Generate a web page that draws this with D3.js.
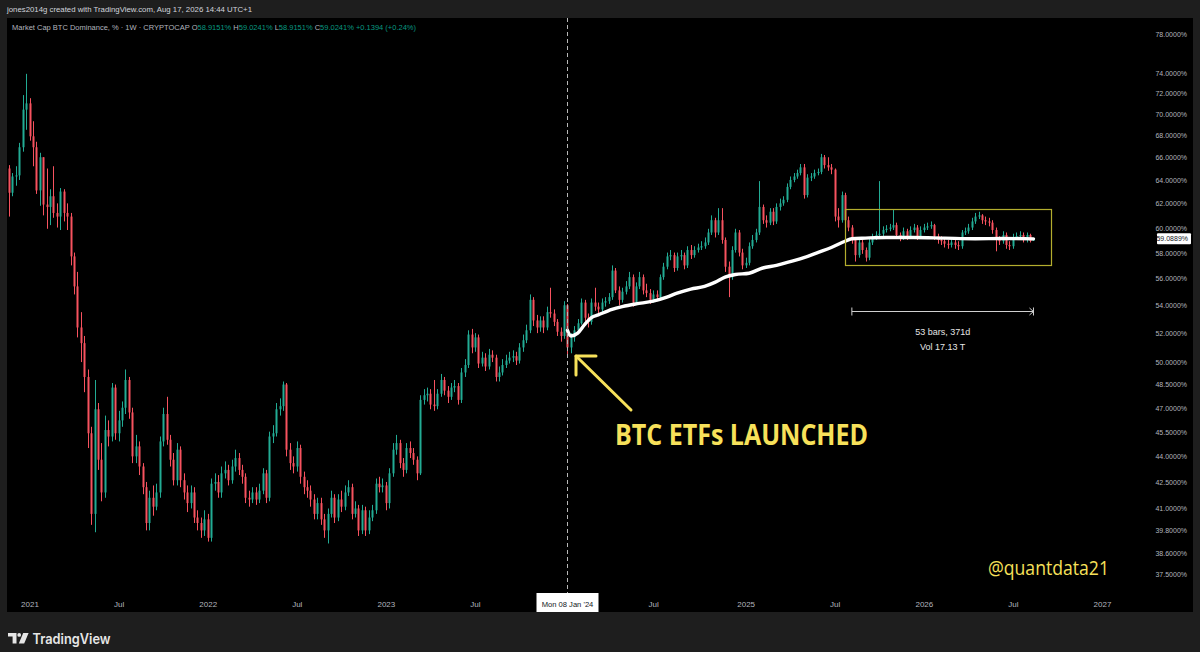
<!DOCTYPE html>
<html><head><meta charset="utf-8">
<script src="https://cdn.jsdelivr.net/npm/d3@7"></script>
<style>body{margin:0;background:#1e1e1e;overflow:hidden} svg{display:block}</style>
</head><body><svg id="c" width="1200" height="652"></svg>
<script>
// ---------------- DATA ----------------
const firstWeek = "2020-11-23";
const firstOpen = 65.0;
const closes = [
62.9,64.3,64.4,66.9,70.4,71.0,67.9,66.9,63.1,66.0,
61.9,61.7,62.6,61.2,60.9,63.0,61.2,60.9,57.7,55.4,
52.4,51.3,49.0,45.4,40.7,46.9,43.8,41.9,45.6,45.2,
48.3,45.4,46.2,47.0,48.8,46.7,44.0,44.6,43.4,42.2,
40.2,41.6,41.1,41.9,44.9,46.6,45.0,43.8,42.6,44.4,
42.6,41.9,41.3,41.9,40.5,40.2,39.8,40.4,39.4,42.4,
42.5,41.9,43.0,43.2,42.6,43.4,43.9,43.2,42.8,41.6,
41.5,41.9,41.5,42.0,43.0,
41.6,45.2,45.4,46.9,47.1,48.5,44.4,43.6,43.4,44.5,
42.8,42.2,42.0,41.5,40.7,41.3,40.4,39.8,40.7,41.6,
40.5,41.5,41.1,41.9,42.2,40.7,41.0,39.8,40.9,39.8,
40.5,40.9,42.4,42.2,42.3,41.3,43.0,44.4,44.8,43.6,
43.2,44.5,44.2,43.8,43.0,47.5,47.8,47.9,47.2,47.1,
47.9,48.8,48.1,47.7,48.3,48.4,47.5,49.3,49.8,51.9,
51.0,51.7,49.9,50.3,49.7,50.5,50.3,49.0,49.3,49.8,
50.1,50.3,50.4,50.1,51.0,
51.5,52.2,54.4,52.9,52.4,52.9,52.4,53.5,53.4,52.8,
52.1,51.8,54.0,51.0,51.7,52.2,52.7,54.2,53.1,52.8,
54.2,53.9,53.7,54.2,54.3,54.6,56.6,55.1,54.4,55.0,
55.4,56.1,54.2,55.4,56.1,55.1,54.9,54.4,54.8,54.6,
56.1,56.9,57.7,57.8,56.8,57.7,57.8,57.0,58.2,57.8,
58.2,58.4,58.5,58.8,59.6,60.6,59.6,60.6,59.0,56.9,
56.1,58.2,59.6,58.0,57.0,57.2,58.5,59.0,59.6,61.7,
60.6,60.4,61.3,60.5,61.7,62.0,62.3,63.4,64.0,64.3,
64.6,65.1,62.7,64.2,64.3,64.6,64.7,66.0,65.3,65.1,
64.9,60.9,60.6,62.7,60.6,60.0,59.0,57.8,58.8,58.2,
57.6,58.8,59.2,59.4,59.5,59.8,59.9,60.0,60.2,59.4,
59.2,59.7,59.3,59.8,60.0,59.3,59.8,60.0,60.1,60.2,
59.3,59.0,58.9,58.7,58.6,58.8,58.6,58.5,59.6,59.7,
60.0,60.5,60.9,61.0,60.6,60.5,60.4,59.8,59.0,58.9,
59.4,58.6,58.5,59.2,59.3,59.4,59.0,59.4,58.92,59.02
];
const highs = [
65.3,64.6,65.2,67.3,71.8,73.9,71.5,69.3,67.4,66.4,
66.0,65.0,63.2,65.2,62.0,63.3,63.2,62.0,61.2,58.0,
56.5,53.5,51.8,49.5,45.8,48.8,47.3,44.8,46.5,46.2,
48.6,48.5,46.8,47.4,49.5,49.0,47.0,45.3,44.9,43.6,
42.5,42.0,42.3,42.4,45.2,47.0,47.7,45.3,44.2,44.8,
44.6,43.0,42.3,42.3,42.2,40.9,40.5,40.9,40.7,42.7,
43.0,42.9,43.4,43.7,43.5,43.8,44.4,44.2,43.5,43.0,
42.0,42.2,42.2,42.4,43.3,
43.2,45.5,45.9,47.3,47.6,48.7,48.6,44.8,44.0,44.9,
44.7,43.1,42.6,42.3,41.8,41.6,41.6,40.7,41.0,42.0,
41.8,41.8,42.0,42.3,42.6,42.4,41.4,41.2,41.2,41.1,
40.9,41.2,42.7,42.8,42.7,42.5,43.3,44.8,45.3,45.0,
43.9,44.8,44.9,44.5,44.0,47.8,48.2,48.3,48.2,48.8,
48.2,49.2,49.0,48.4,48.6,48.8,48.6,49.6,50.2,52.2,
52.3,52.0,51.9,50.7,50.6,50.9,50.8,50.5,49.7,50.2,
50.5,50.7,50.8,50.7,51.3,
51.9,52.6,54.8,54.6,53.3,53.2,53.2,53.9,55.3,53.7,
53.0,52.4,54.3,54.1,52.0,52.5,53.0,54.5,54.4,53.4,
54.5,55.3,54.2,54.5,54.6,54.9,57.0,56.8,55.4,55.3,
55.8,56.5,56.3,55.7,56.5,56.3,55.6,55.2,55.1,55.1,
56.3,57.2,58.0,58.2,58.0,58.0,58.2,58.0,58.5,58.6,
58.5,58.7,58.9,59.2,59.9,61.0,60.8,61.6,61.6,59.2,
57.3,58.5,59.9,59.8,58.3,57.6,58.8,59.4,59.9,63.9,
61.9,61.0,61.6,61.6,62.0,62.4,62.6,63.7,64.3,64.6,
64.9,65.4,65.4,64.5,64.6,64.9,65.0,66.3,66.2,66.0,
65.4,65.0,61.6,63.0,62.9,60.9,60.2,59.2,59.1,59.0,
58.4,59.1,59.5,59.7,63.9,60.1,60.2,60.3,61.5,60.4,
59.6,60.0,59.9,60.1,60.3,60.2,60.1,60.3,60.4,60.5,
60.3,59.5,59.3,59.1,59.0,59.1,59.0,58.9,59.8,60.0,
60.3,60.8,61.2,61.3,61.1,60.9,60.8,60.6,60.0,59.3,
59.7,59.6,58.9,59.5,59.6,59.7,59.6,59.6,59.5,59.02
];
const lows = [
60.9,62.6,63.5,64.0,66.5,68.5,67.5,65.2,62.8,61.8,
61.0,59.9,60.2,60.8,60.0,59.8,60.5,59.8,57.0,54.8,
51.7,50.0,48.0,44.5,40.1,39.7,43.2,41.4,41.6,44.6,
44.9,45.0,44.9,45.8,46.6,46.3,43.6,43.6,42.9,41.8,
39.8,39.8,40.6,40.9,41.6,44.6,44.7,43.4,42.3,42.3,
42.2,41.5,40.8,41.0,40.2,39.8,39.4,39.5,39.2,39.2,
42.0,41.6,41.6,42.7,42.3,42.4,43.1,42.9,42.4,41.3,
41.1,41.3,41.2,41.3,41.8,
41.3,41.4,44.8,45.2,46.5,46.8,44.0,43.2,43.0,43.1,
42.4,41.8,41.6,41.1,40.4,40.4,40.1,39.4,39.1,40.5,
40.2,40.3,40.8,40.9,41.7,40.4,40.5,39.5,39.6,39.5,
39.6,40.3,40.7,41.9,41.9,40.9,41.0,42.8,44.1,43.3,
42.8,43.0,43.9,43.5,42.6,42.9,47.2,47.4,46.9,46.8,
46.9,47.7,47.8,47.3,47.5,48.0,47.2,47.3,49.0,49.6,
50.6,50.7,49.6,49.7,49.4,49.5,50.0,48.7,48.7,49.1,
49.6,49.9,50.0,49.8,49.9,
50.7,51.3,52.0,52.5,52.0,52.1,52.0,52.2,53.1,52.5,
51.8,51.4,51.6,50.5,50.6,51.4,52.0,52.6,52.8,52.4,
52.6,53.6,53.4,53.5,53.9,54.1,54.4,54.9,54.0,54.2,
54.8,55.2,53.9,54.0,55.2,54.8,54.6,54.1,54.2,54.3,
54.5,55.9,56.7,57.4,56.5,56.6,57.4,56.7,56.8,57.5,
57.6,58.0,58.2,58.3,58.6,59.4,59.2,59.4,58.7,56.5,
54.6,55.9,58.0,57.7,56.7,56.8,57.0,58.3,58.8,59.4,
60.3,60.0,60.2,60.2,60.3,61.4,61.8,62.1,63.2,63.8,
64.1,64.4,62.4,62.5,63.9,64.1,64.4,64.5,65.0,64.8,
64.5,60.5,60.0,60.4,60.3,59.7,58.7,57.3,57.6,57.9,
57.3,57.4,58.6,59.0,59.2,59.3,59.6,59.7,59.8,59.1,
58.9,59.0,59.0,59.1,59.6,59.0,59.1,59.6,59.8,59.9,
59.0,58.7,58.6,58.4,58.3,58.4,58.3,58.2,58.3,59.4,
59.5,59.8,60.3,60.7,60.3,60.2,60.1,59.5,58.1,58.6,
58.7,58.3,58.2,58.3,59.0,59.1,58.8,58.8,58.8,58.92
];
// white average line (from the ETF launch)
const maDates = ["2024-01-08","2024-01-15","2024-01-29","2024-02-12","2024-02-26","2024-03-11","2024-04-08","2024-04-29","2024-05-27","2024-07-01","2024-07-29","2024-08-19","2024-09-16","2024-10-14","2024-11-04","2024-11-25","2024-12-16","2025-01-13","2025-02-10","2025-03-10","2025-04-07","2025-05-05","2025-06-02","2025-06-30","2025-07-28","2025-08-11","2025-09-08","2025-10-20","2025-12-15","2026-02-16","2026-04-20","2026-06-15","2026-08-17"];
const maValues = [52.2,51.8,52.0,52.6,53.1,53.3,53.7,53.9,54.1,54.3,54.6,54.9,55.2,55.4,55.7,56.1,56.3,56.4,56.8,57.0,57.3,57.6,58.0,58.4,58.9,59.1,59.15,59.2,59.2,59.15,59.1,59.12,59.09];
const maLast = 59.0889;
const yTicks = [78,74,72,70,68,66,64,62,60,58,56,54,52,50,48.5,47,45.5,44,42.5,41,39.8,38.6,37.5];
const xTickDates = ["2021-01-04","2021-07-05","2022-01-03","2022-07-04","2023-01-02","2023-07-03","2024-07-01","2025-01-06","2025-07-07","2026-01-05","2026-07-06","2027-01-04"];
const xTickLabels = ["2021","Jul","2022","Jul","2023","Jul","Jul","2025","Jul","2026","Jul","2027"];
const etfDate = "2024-01-08";
const etfLabel = "Mon 08 Jan '24";
const boxDates = ["2025-07-28","2026-09-21"];
const boxValues = [61.5,57.0];
const measureDates = ["2025-08-11","2026-08-17"];
const measureValue = 53.6;
const measureTexts = ["53 bars, 371d","Vol 17.13 T"];
const legendTitle = "Market Cap BTC Dominance, % · 1W · CRYPTOCAP";
const legendOHLC = [["O","58.9151%"],["H","59.0241%"],["L","58.9151%"],["C","59.0241%"]];
const legendChange = "+0.1394 (+0.24%)";
const headerText = "jones2014g created with TradingView.com, Aug 17, 2026 14:44 UTC+1";

// ---------------- DRAW ----------------
const svg = d3.select("#c");
const W = 1200, H = 652;
const UP = "#22ab94", DOWN = "#f7525f", YEL = "#f7e15a", AXC = "#b2b5be";
const FONT = "Liberation Sans, Arial, sans-serif";
svg.append("rect").attr("width", W).attr("height", H).attr("fill", "#1e1e1e");
svg.append("rect").attr("x", 7).attr("y", 18).attr("width", 1186).attr("height", 594).attr("fill", "#000");

const parse = d3.utcParse("%Y-%m-%d");
const x = d3.scaleUtc().domain([parse("2021-01-04"), parse("2027-01-04")]).range([29.5, 1102]);
const y = d3.scaleLog().domain([78, 37.5]).range([34, 574.3]);

svg.append("defs").append("clipPath").attr("id", "plot")
  .append("rect").attr("x", 7).attr("y", 18).attr("width", 1130).attr("height", 572);

// header
svg.append("text").attr("x", 7).attr("y", 12).attr("fill", "#d1d4dc")
  .attr("font-family", FONT).attr("font-size", 7.8).text(headerText);

// legend
const lg = svg.append("text").attr("x", 12).attr("y", 30).attr("font-family", FONT).attr("font-size", 7.5).attr("fill", AXC);
lg.append("tspan").text(legendTitle + "  ");
legendOHLC.forEach(([k, v]) => {
  lg.append("tspan").attr("fill", AXC).text("  " + k);
  lg.append("tspan").attr("fill", "#089981").text(v);
});
lg.append("tspan").attr("fill", "#089981").text("  " + legendChange);

const start = parse(firstWeek);
const candles = closes.map((c, i) => ({
  date: d3.utcDay.offset(start, 7 * i),
  o: i ? closes[i - 1] : firstOpen, h: highs[i], l: lows[i], c
}));

const plot = svg.append("g").attr("clip-path", "url(#plot)");

// ETF dashed line
const ex = Math.round(x(parse(etfDate))) + 0.5;
svg.append("line").attr("x1", ex).attr("x2", ex).attr("y1", 18).attr("y2", 593)
  .attr("stroke", "#b8b8b8").attr("stroke-width", 1).attr("stroke-dasharray", "4,3");

// candles
const cg = plot.append("g");
cg.selectAll("line.w").data(candles).join("line").attr("class", "w")
  .attr("x1", d => Math.round(x(d.date)) + 0.5).attr("x2", d => Math.round(x(d.date)) + 0.5)
  .attr("y1", d => y(d.h)).attr("y2", d => y(d.l))
  .attr("stroke", d => d.c >= d.o ? UP : DOWN).attr("stroke-width", 1);
cg.selectAll("rect.b").data(candles).join("rect").attr("class", "b")
  .attr("x", d => Math.round(x(d.date)) - 0.5).attr("width", 2)
  .attr("y", d => y(Math.max(d.o, d.c)))
  .attr("height", d => Math.max(1, Math.abs(y(d.o) - y(d.c))))
  .attr("fill", d => d.c >= d.o ? UP : DOWN);

// white line
const maData = maDates.map((d, i) => ({ date: parse(d), v: maValues[i] }));
plot.append("path").datum(maData)
  .attr("d", d3.line().x(d => x(d.date)).y(d => y(d.v)).curve(d3.curveMonotoneX))
  .attr("fill", "none").attr("stroke", "#fff").attr("stroke-width", 3.4).attr("stroke-linecap", "round");

// box
const bx0 = x(parse(boxDates[0])), bx1 = x(parse(boxDates[1]));
svg.append("rect").attr("x", Math.round(bx0) + 0.5).attr("y", Math.round(y(boxValues[0])) + 0.5)
  .attr("width", Math.round(bx1 - bx0)).attr("height", Math.round(y(boxValues[1]) - y(boxValues[0])))
  .attr("fill", "none").attr("stroke", "#b3ad2e").attr("stroke-width", 1.2);

// measure
const mx0 = x(parse(measureDates[0])), mx1 = x(parse(measureDates[1])), my = Math.round(y(measureValue)) + 0.5;
const mg = svg.append("g").attr("stroke", "#d0d0d0").attr("stroke-width", 1).attr("fill", "none");
mg.append("line").attr("x1", mx0).attr("x2", mx1).attr("y1", my).attr("y2", my);
mg.append("line").attr("x1", mx0).attr("x2", mx0).attr("y1", my - 4).attr("y2", my + 4);
mg.append("line").attr("x1", mx1).attr("x2", mx1).attr("y1", my - 4).attr("y2", my + 4);
mg.append("path").attr("d", `M${mx1 - 4},${my - 3.5}L${mx1},${my}L${mx1 - 4},${my + 3.5}`);
const mcx = (mx0 + mx1) / 2;
measureTexts.forEach((t, i) => {
  svg.append("text").attr("x", mcx).attr("y", my + 23 + i * 15).attr("text-anchor", "middle")
    .attr("font-family", FONT).attr("font-size", 9).attr("fill", "#e6e6e6").text(t);
});

// y axis
const ya = svg.append("g").attr("transform", "translate(1150,0)")
  .call(d3.axisRight(y).tickValues(yTicks).tickFormat(d => d.toFixed(4) + "%").tickSize(0));
ya.select(".domain").remove();
ya.selectAll("text").attr("x", 37).attr("text-anchor", "end").attr("dy", "0.35em")
  .attr("fill", AXC).attr("font-family", FONT).attr("font-size", 7.0);

// price label
const py = y(maLast);
svg.append("rect").attr("x", 1157).attr("y", py - 5.5).attr("width", 34).attr("height", 11).attr("fill", "#fff").attr("rx", 1);
svg.append("text").attr("x", 1188).attr("y", py).attr("dy", "0.35em").attr("text-anchor", "end")
  .attr("font-family", FONT).attr("font-size", 7.0).attr("fill", "#131722").text(maLast.toFixed(4) + "%");

// x axis
const xa = svg.append("g").attr("transform", "translate(0,604)")
  .call(d3.axisBottom(x).tickValues(xTickDates.map(parse)).tickFormat((d, i) => xTickLabels[i]).tickSize(0));
xa.select(".domain").remove();
xa.selectAll("text").attr("y", 0).attr("dy", "0.35em").attr("fill", AXC).attr("font-family", FONT).attr("font-size", 8);

// ETF date label
svg.append("rect").attr("x", ex - 31).attr("y", 593).attr("width", 62).attr("height", 19).attr("fill", "#fff");
svg.append("text").attr("x", ex).attr("y", 604).attr("dy", "0.35em").attr("text-anchor", "middle")
  .attr("font-family", FONT).attr("font-size", 7.6).attr("fill", "#131722").text(etfLabel);

// annotation arrow
const tipX = ex + 8.5, tipY = 356;
const ag = svg.append("g").attr("stroke", YEL).attr("stroke-width", 3).attr("fill", "none").attr("stroke-linecap", "round").attr("stroke-linejoin", "round");
ag.append("line").attr("x1", tipX).attr("y1", tipY).attr("x2", tipX + 55).attr("y2", tipY + 54);
ag.append("path").attr("d", `M${tipX + 20},${tipY}L${tipX},${tipY}L${tipX},${tipY + 19}`);

svg.append("text").attr("x", 615).attr("y", 445).attr("font-family", "Open Sans, Liberation Sans, sans-serif")
  .attr("font-weight", 700).attr("font-size", 29).attr("fill", YEL)
  .attr("textLength", 253).attr("lengthAdjust", "spacingAndGlyphs").text("BTC ETFs LAUNCHED");
svg.append("text").attr("x", 988).attr("y", 575).attr("font-family", "Open Sans, Liberation Sans, sans-serif")
  .attr("font-size", 20).attr("fill", YEL)
  .attr("textLength", 121).attr("lengthAdjust", "spacingAndGlyphs").text("@quantdata21");

// TradingView logo
const logo = svg.append("g").attr("transform", "translate(8,633)").attr("fill", "#e6e6e6");
logo.append("path").attr("d", "M0,0H8.5V10.5H4.6V3.6H0Z");
logo.append("circle").attr("cx", 11.2).attr("cy", 1.9).attr("r", 1.9);
logo.append("path").attr("d", "M15.2,0H20.6L16.2,10.5H10.8Z");
svg.append("text").attr("x", 32.5).attr("y", 643.5).attr("font-family", "Inter, Roboto, sans-serif")
  .attr("font-weight", 600).attr("font-size", 14.5).attr("fill", "#e6e6e6")
  .attr("textLength", 78).attr("lengthAdjust", "spacingAndGlyphs").text("TradingView");
</script>
</body></html>
